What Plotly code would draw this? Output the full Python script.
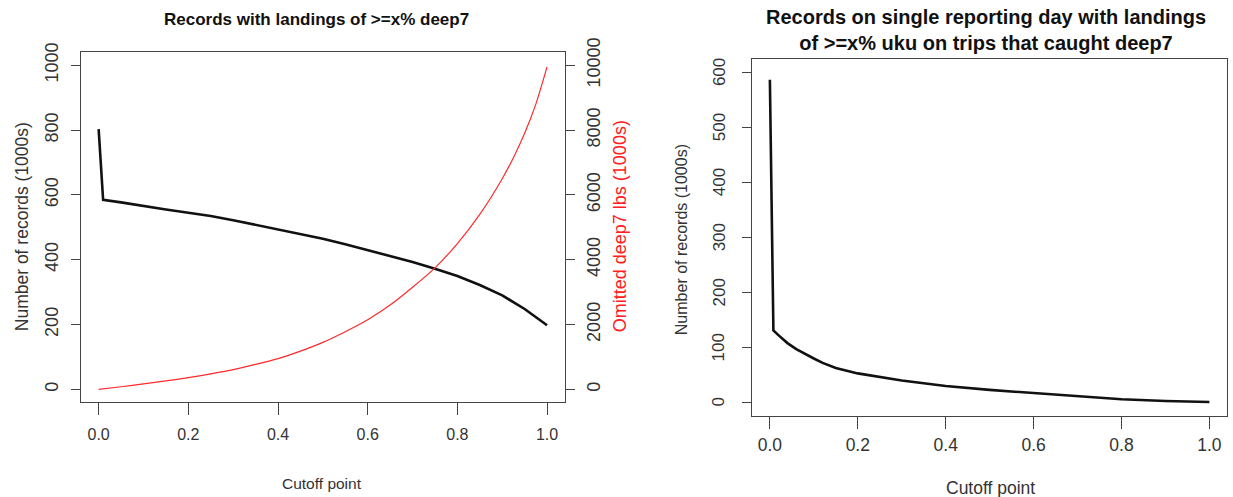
import plotly.graph_objects as go

W, H = 1233, 497

# ---------------- data ----------------
left_x = [0, 0.01, 0.05, 0.1, 0.15, 0.2, 0.25, 0.3, 0.35, 0.4, 0.45, 0.5,
          0.55, 0.6, 0.65, 0.7, 0.75, 0.8, 0.85, 0.9, 0.95, 1.0]
left_records = [803, 585, 577, 565, 555, 545, 535, 522, 508, 494, 480, 465,
                448, 430, 412, 393, 372, 350, 322, 290, 248, 198]
red_x = [0, 0.05, 0.1, 0.15, 0.2, 0.25, 0.3, 0.35, 0.4, 0.45, 0.5, 0.55,
         0.6, 0.65, 0.7, 0.75, 0.8, 0.85, 0.9, 0.925, 0.95, 0.975, 1.0]
omitted_lbs = [0, 80, 170, 260, 360, 480, 610, 770, 950, 1180, 1450, 1780,
               2150, 2600, 3150, 3750, 4500, 5400, 6500, 7150, 7900, 8800, 9950]
right_x = [0, 0.002, 0.004, 0.006, 0.008, 0.02, 0.04, 0.06, 0.08, 0.1, 0.12,
           0.15, 0.2, 0.25, 0.3, 0.35, 0.4, 0.5, 0.6, 0.7, 0.8, 0.9, 1.0]
right_records = [586, 470, 355, 245, 131, 122, 108, 97, 88, 80, 72,
                 63, 53, 46, 40, 35, 30, 23, 17, 12, 6, 3, 1]

x_ticks = [0, 0.2, 0.4, 0.6, 0.8, 1.0]
x_ticklabels = ["0.0", "0.2", "0.4", "0.6", "0.8", "1.0"]
left_y_ticks = [0, 200, 400, 600, 800, 1000]
right2_y_ticks = [0, 2000, 4000, 6000, 8000, 10000]
right2_y_labels = ["0", "2000", "4000", "6000", "8000", "10000"]
right_y_ticks = [0, 100, 200, 300, 400, 500, 600]

titles = {
    "left": "Records with landings of >=x% deep7",
    "right": "Records on single reporting day with landings<br>of >=x% uku on trips that caught deep7",
}

# ---------------- helpers ----------------
def px(x):
    return x / W

def py(r):
    # target row r (pixels from top) -> paper fraction, calibrated to the render
    y = (r - 13.3) / 0.974
    return 1 - y / H

SANS = "Liberation Sans, Arial, Helvetica"
AX = "#444444"
TXT = "#333333"

fig = go.Figure()
fig.add_trace(go.Scatter(x=left_x, y=left_records, mode="lines",
                         line=dict(color="#111111", width=2.6),
                         xaxis="x", yaxis="y", showlegend=False))
fig.add_trace(go.Scatter(x=red_x, y=omitted_lbs, mode="lines",
                         line=dict(color="#ff2a2a", width=1.2, shape="spline", smoothing=0.6),
                         xaxis="x", yaxis="y2", showlegend=False))
fig.add_trace(go.Scatter(x=right_x, y=right_records, mode="lines",
                         line=dict(color="#111111", width=2.6),
                         xaxis="x3", yaxis="y3", showlegend=False))

common_ax = dict(showgrid=False, zeroline=False, showline=True, linecolor=AX,
                 linewidth=1.3, ticks="outside", tickcolor=AX, tickwidth=1.3)

left_dom_x = [px(80.7), px(565)]
left_dom_y = [py(402.5), py(51.7)]
right_dom_x = [px(752.3), px(1227)]
right_dom_y = [py(416), py(58.3)]

fig.update_layout(
    width=W, height=H, margin=dict(l=0, r=0, t=0, b=0),
    paper_bgcolor="white", plot_bgcolor="white",
    xaxis=dict(domain=left_dom_x, anchor="y", range=[-0.04, 1.04], mirror=True,
               tickvals=x_ticks, ticktext=x_ticklabels, ticklen=12,
               tickfont=dict(family=SANS, size=16, color=TXT),
               ticklabelstandoff=5, **common_ax),
    yaxis=dict(domain=left_dom_y, anchor="x", range=[-40, 1040], mirror=True,
               tickvals=left_y_ticks, ticklen=9, tickangle=-90,
               tickfont=dict(family=SANS, size=18, color=TXT),
               ticklabelstandoff=5, **common_ax),
    yaxis2=dict(overlaying="y", side="right", anchor="x", range=[-400, 10400],
                tickvals=right2_y_ticks, ticktext=right2_y_labels, ticklen=9,
                tickangle=-90,
                tickfont=dict(family=SANS, size=18, color=TXT),
                ticklabelstandoff=3, **common_ax),
    xaxis3=dict(domain=right_dom_x, anchor="y3", range=[-0.04, 1.04], mirror=True,
                tickvals=x_ticks, ticktext=x_ticklabels, ticklen=12,
                tickfont=dict(family=SANS, size=17.5, color=TXT),
                ticklabelstandoff=1, **common_ax),
    yaxis3=dict(domain=right_dom_y, anchor="x3", range=[-24, 624], mirror=True,
                tickvals=right_y_ticks, ticklen=9, showticklabels=False,
                **common_ax),
)

# right-panel y tick labels, rotated like R's default (parallel to the axis)
for v in right_y_ticks:
    fig.add_annotation(xref="paper", yref="y3", x=px(719), y=v, text=str(v),
                       textangle=-90, showarrow=False, xanchor="center",
                       yanchor="middle", font=dict(family=SANS, size=17, color=TXT))

ann = [
    dict(text="<b>" + titles["left"] + "</b>", x=px(316), y=py(19),
         font=dict(family=SANS, size=17, color="#111111")),
    dict(text="<b>" + titles["right"] + "</b>", x=px(986), y=py(29),
         font=dict(family=SANS, size=20, color="#111111")),
    dict(text="Number of records (1000s)", x=px(22), y=py(227), textangle=-90,
         font=dict(family=SANS, size=17.5, color=TXT)),
    dict(text="Omitted deep7 lbs (1000s)", x=px(620), y=py(226), textangle=-90,
         font=dict(family=SANS, size=18, color="#ff2020")),
    dict(text="Cutoff point", x=px(322), y=py(484),
         font=dict(family=SANS, size=15.5, color=TXT)),
    dict(text="Number of records (1000s)", x=px(681), y=py(240), textangle=-90,
         font=dict(family=SANS, size=16, color=TXT)),
    dict(text="Cutoff point", x=px(990), y=py(488),
         font=dict(family=SANS, size=17.5, color=TXT)),
]
for a in ann:
    fig.add_annotation(xref="paper", yref="paper", showarrow=False,
                       xanchor="center", yanchor="middle", **a)

fig.write_html("out.html")
